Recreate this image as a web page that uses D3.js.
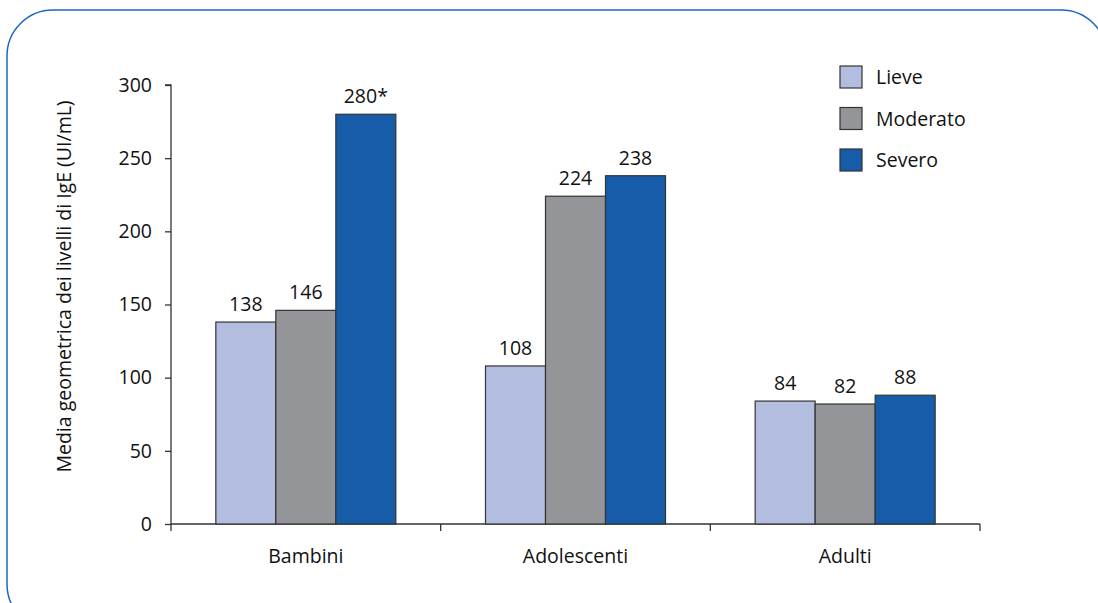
<!DOCTYPE html>
<html>
<head>
<meta charset="utf-8">
<script src="https://cdn.jsdelivr.net/npm/d3@7"></script>
<style>
  body { margin: 0; background: #fff; }
  text { font-family: "Open Sans", "Noto Sans", sans-serif; fill: #111; }
</style>
</head>
<body>
<svg width="1098" height="603"></svg>
<script>
const categories = ['Bambini', 'Adolescenti', 'Adulti'];
const seriesNames = ['Lieve', 'Moderato', 'Severo'];
const lieve = [138, 108, 84];
const moderato = [146, 224, 82];
const severo = [280, 238, 88];
const valueLabels = [
    ['138', '108', '84'],
    ['146', '224', '82'],
    ['280*', '238', '88'],
];
const yTicks = [0, 50, 100, 150, 200, 250, 300];
const colors = ['#b3bddf', '#939598', '#165ca9'];

const series = [lieve, moderato, severo];
const fontSize = 19.5;

const svg = d3.select('svg');

// rounded frame
svg.append('rect')
    .attr('x', 7)
    .attr('y', 10)
    .attr('width', 1100)
    .attr('height', 620)
    .attr('rx', 46)
    .attr('fill', 'none')
    .attr('stroke', '#1f66c1')
    .attr('stroke-width', 1.5);

const plotLeft = 171;
const plotRight = 980;
const plotTop = 85;
const plotBottom = 524;

const xScale = d3.scaleBand()
    .range([plotLeft, plotRight])
    .domain(categories);

const innerScale = d3.scaleBand()
    .domain(seriesNames)
    .range([0, 180]);

const yScale = d3.scaleLinear()
    .range([plotBottom, plotTop])
    .domain([0, 300]);

const yAxis = svg.append('g')
    .attr('transform', `translate(${plotLeft}, 0)`)
    .call(d3.axisLeft(yScale).tickValues(yTicks).tickSize(6).tickPadding(13));

const xAxis = svg.append('g')
    .attr('transform', `translate(0, ${plotBottom})`)
    .call(d3.axisBottom(xScale).tickSize(0).tickPadding(25));

// category boundary ticks
const boundaries = [plotLeft].concat(categories.map((c) => xScale(c) + xScale.bandwidth()));
svg.append('g')
    .selectAll('line')
    .data(boundaries)
    .enter()
    .append('line')
    .attr('x1', (d) => d)
    .attr('x2', (d) => d)
    .attr('y1', plotBottom)
    .attr('y2', plotBottom + 7)
    .attr('stroke', '#333')
    .attr('stroke-width', 1.3);

[yAxis, xAxis].forEach((ax) => {
    ax.select('.domain').attr('stroke', '#333').attr('stroke-width', 1.3);
    ax.selectAll('.tick line').attr('stroke', '#333').attr('stroke-width', 1.3);
    ax.selectAll('.tick text').attr('font-size', fontSize).attr('fill', '#111')
        .style('font-family', '"Open Sans", "Noto Sans", sans-serif');
});
yAxis.select('.domain').attr('d', `M-6,${plotTop}H0V${plotBottom}`);
xAxis.select('.domain').attr('d', `M${plotLeft},0H${plotRight}`);

const groups = svg.selectAll('.series')
    .data(series)
    .enter()
    .append('g')
    .attr('class', 'series');

groups.each(function (vals, si) {
    const g = d3.select(this);
    const offset = (xScale.bandwidth() - 180) / 2;
    g.selectAll('rect')
        .data(vals)
        .enter()
        .append('rect')
        .attr('x', (d, i) => xScale(categories[i]) + offset + innerScale(seriesNames[si]))
        .attr('y', (d) => yScale(d))
        .attr('width', innerScale.bandwidth())
        .attr('height', (d) => plotBottom - yScale(d))
        .attr('fill', colors[si])
        .attr('stroke', '#333')
        .attr('stroke-width', 1.2);
    g.selectAll('text')
        .data(vals)
        .enter()
        .append('text')
        .attr('x', (d, i) => xScale(categories[i]) + offset + innerScale(seriesNames[si]) + innerScale.bandwidth() / 2)
        .attr('y', (d) => yScale(d) - 11)
        .attr('text-anchor', 'middle')
        .attr('font-size', fontSize)
        .text((d, i) => valueLabels[si][i]);
});

// y axis title
svg.append('text')
    .attr('transform', `translate(71, ${(plotTop + plotBottom) / 2 - 18}) rotate(-90)`)
    .attr('text-anchor', 'middle')
    .attr('font-size', fontSize)
    .text('Media geometrica dei livelli di IgE (UI/mL)');

// legend
const legend = svg.append('g')
    .selectAll('g')
    .data(seriesNames)
    .enter()
    .append('g')
    .attr('transform', (d, i) => `translate(840, ${66 + i * 41.5})`);

legend.append('rect')
    .attr('width', 22)
    .attr('height', 22)
    .attr('fill', (d, i) => colors[i])
    .attr('stroke', '#333')
    .attr('stroke-width', 1.2);

legend.append('text')
    .attr('x', 36)
    .attr('y', 18)
    .attr('font-size', fontSize)
    .text((d) => d);
</script>
</body>
</html>
